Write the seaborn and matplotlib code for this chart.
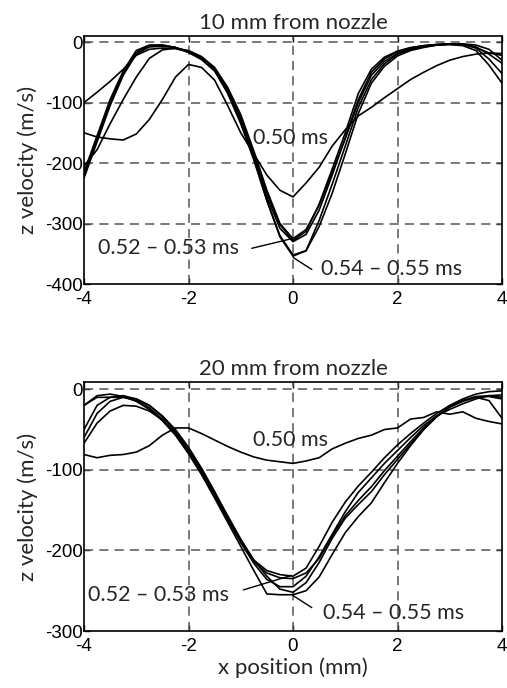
import numpy as np
import pandas as pd
import matplotlib
matplotlib.use("Agg")
import matplotlib.pyplot as plt
import seaborn as sns

# ---------------- data ----------------
x_mm = [-4, -3.75, -3.5, -3.25, -3, -2.75, -2.5, -2.25, -2, -1.75, -1.5, -1.25,
        -1, -0.75, -0.5, -0.25, 0, 0.25, 0.5, 0.75, 1, 1.25, 1.5, 1.75,
        2, 2.25, 2.5, 2.75, 3, 3.25, 3.5, 3.75, 4]

times = ["0.50", "0.51", "0.52", "0.53", "0.54", "0.55"]

# 10 mm from nozzle
top_050 = [-150, -157, -160, -162, -152, -128, -95, -58, -37, -42, -63, -105,
           -150, -185, -220, -245, -256, -233, -207, -172, -145, -122, -108, -92,
           -77, -62, -50, -39, -30, -24, -20, -18, -19]
top_051 = [-205, -178, -135, -95, -58, -27, -13, -10, -14, -24, -42, -75,
           -120, -180, -245, -300, -325, -310, -270, -215, -160, -100, -55, -32,
           -19, -11, -7, -5, -4, -5, -9, -18, -22]
top_052 = [-220, -160, -100, -52, -17, -6, -5, -9, -17, -28, -46, -80,
           -125, -185, -250, -302, -328, -313, -268, -210, -150, -85, -45, -25,
           -15, -9, -6, -4, -3, -3, -5, -12, -30]
top_053 = [-215, -155, -95, -48, -14, -5, -5, -9, -17, -29, -48, -83,
           -130, -190, -256, -308, -330, -318, -278, -220, -158, -95, -50, -28,
           -16, -10, -6, -4, -3, -4, -8, -20, -35]
top_054 = [-225, -165, -105, -55, -20, -8, -7, -9, -16, -26, -44, -79,
           -128, -192, -262, -322, -354, -345, -295, -235, -172, -108, -62, -36,
           -20, -12, -8, -5, -3, -3, -10, -28, -52]
top_055 = [-100, -83, -65, -45, -22, -12, -10, -11, -16, -27, -47, -85,
           -135, -195, -262, -320, -352, -345, -305, -250, -185, -118, -68, -40,
           -23, -14, -9, -5, -4, -6, -14, -38, -68]

# 20 mm from nozzle
bot_050 = [-81, -85, -82, -81, -78, -70, -57, -48, -48, -55, -63, -71,
           -78, -84, -88, -90, -92, -89, -85, -74, -67, -61, -57, -50,
           -48, -37, -35, -28, -31, -28, -36, -40, -43]
bot_051 = [-50, -20, -10, -8, -12, -20, -33, -50, -72, -98, -127, -158,
           -188, -212, -225, -230, -232, -222, -195, -165, -140, -120, -103, -85,
           -69, -55, -42, -30, -20, -12, -6, -3, -2]
bot_052 = [-20, -10, -10, -10, -14, -23, -37, -55, -78, -104, -132, -162,
           -190, -214, -228, -234, -235, -228, -210, -182, -157, -138, -121, -101,
           -83, -65, -48, -33, -22, -15, -10, -9, -12]
bot_053 = [-67, -42, -27, -20, -21, -27, -38, -54, -75, -100, -128, -157,
           -186, -212, -232, -248, -252, -240, -215, -185, -160, -143, -127, -106,
           -87, -68, -50, -34, -22, -14, -9, -8, -10]
bot_054 = [-20, -8, -6, -9, -15, -25, -39, -57, -80, -106, -135, -165,
           -195, -225, -254, -255, -255, -250, -233, -205, -178, -158, -141, -116,
           -92, -70, -50, -34, -22, -14, -10, -14, -36]
bot_055 = [-60, -30, -15, -10, -12, -20, -34, -52, -75, -101, -130, -160,
           -190, -216, -236, -245, -245, -232, -208, -180, -152, -128, -110, -92,
           -76, -60, -45, -33, -25, -18, -12, -8, -7]

top_series = [top_050, top_051, top_052, top_053, top_054, top_055]
bot_series = [bot_050, bot_051, bot_052, bot_053, bot_054, bot_055]

titles = ["10 mm from nozzle", "20 mm from nozzle"]
ylims = [(-400, 10), (-300, 9)]
yticks = [[0, -100, -200, -300, -400], [0, -100, -200, -300]]
xticks = [-4, -2, 0, 2, 4]
label_050 = "0.50 ms"
label_0523 = "0.52 \u2013 0.53 ms"
label_0545 = "0.54 \u2013 0.55 ms"


def long_df(series):
    rows = []
    for t, vals in zip(times, series):
        for xv, yv in zip(x_mm, vals):
            rows.append({"x": xv, "v": yv, "t": t})
    return pd.DataFrame(rows)


sns.set_style("white")
plt.rcParams["font.family"] = ["Lato", "DejaVu Sans"]

fig = plt.figure(figsize=(5.07, 6.88), dpi=100)
ax1 = fig.add_axes([84 / 507, 1 - 284 / 688, 418 / 507, 248 / 688])
ax2 = fig.add_axes([84 / 507, 1 - 631 / 688, 418 / 507, 249 / 688])

text_fs = 16
ann_fs = 15.5
tick_font = "Liberation Sans"
tick_fs = 13.5

annots = [
    dict(l050=(-0.76, -159), l0523=(-3.73, -341), lead1=((-0.79, -341), (-0.02, -325)),
         l0545=(0.53, -376), lead2=((0.36, -376), (0.0, -356))),
    dict(l050=(-0.76, -63), l0523=(-3.92, -255), lead1=((-0.95, -249), (-0.03, -231)),
         l0545=(0.58, -278), lead2=((0.36, -271), (0.0, -256))),
]

for ax, series, title, ylim, yt, an in zip([ax1, ax2], [top_series, bot_series],
                                          titles, ylims, yticks, annots):
    df = long_df(series)
    sns.lineplot(data=df, x="x", y="v", hue="t", units="t", estimator=None,
                 palette=["black"] * len(times), legend=False, linewidth=1.2,
                 ax=ax, zorder=3)
    ax.set_xlim(-4, 4)
    ax.set_ylim(*ylim)
    ax.set_xticks(xticks)
    ax.set_yticks(yt)
    ax.set_xticklabels([str(v) for v in xticks], family=tick_font, fontsize=tick_fs)
    ax.set_yticklabels([str(v) for v in yt], family=tick_font, fontsize=tick_fs)
    for xv in [-2, 0, 2]:
        ax.axvline(xv, color="#555555", lw=1.1, dashes=(6, 4), zorder=1)
    for yv in yt[:-1]:
        ax.axhline(yv, color="#555555", lw=1.1, dashes=(6, 4), zorder=1)
    ax.tick_params(direction="in", length=4, width=1, top=True, right=True,
                   bottom=True, left=True, pad=1, colors="black")
    ax.tick_params(axis="x", pad=5)
    for s in ax.spines.values():
        s.set_color("black")
        s.set_linewidth(1.2)
    ax.set_title(title, fontsize=text_fs, pad=5)
    ax.set_ylabel("z velocity (m/s)", fontsize=text_fs, labelpad=5)
    ax.set_xlabel("")
    ax.text(*an["l050"], label_050, fontsize=ann_fs, va="center", ha="left", zorder=4)
    ax.text(*an["l0523"], label_0523, fontsize=ann_fs, va="center", ha="left", zorder=4)
    ax.text(*an["l0545"], label_0545, fontsize=ann_fs, va="center", ha="left", zorder=4)
    (a, b) = an["lead1"]
    ax.annotate("", xy=b, xytext=a,
                arrowprops=dict(arrowstyle="-", color="black", lw=1.0, shrinkA=0, shrinkB=0))
    (a, b) = an["lead2"]
    ax.annotate("", xy=b, xytext=a,
                arrowprops=dict(arrowstyle="-", color="black", lw=1.0, shrinkA=0, shrinkB=0))

ax2.set_xlabel("x position (mm)", fontsize=text_fs, labelpad=2)

fig.savefig("out.png", dpi=100)
